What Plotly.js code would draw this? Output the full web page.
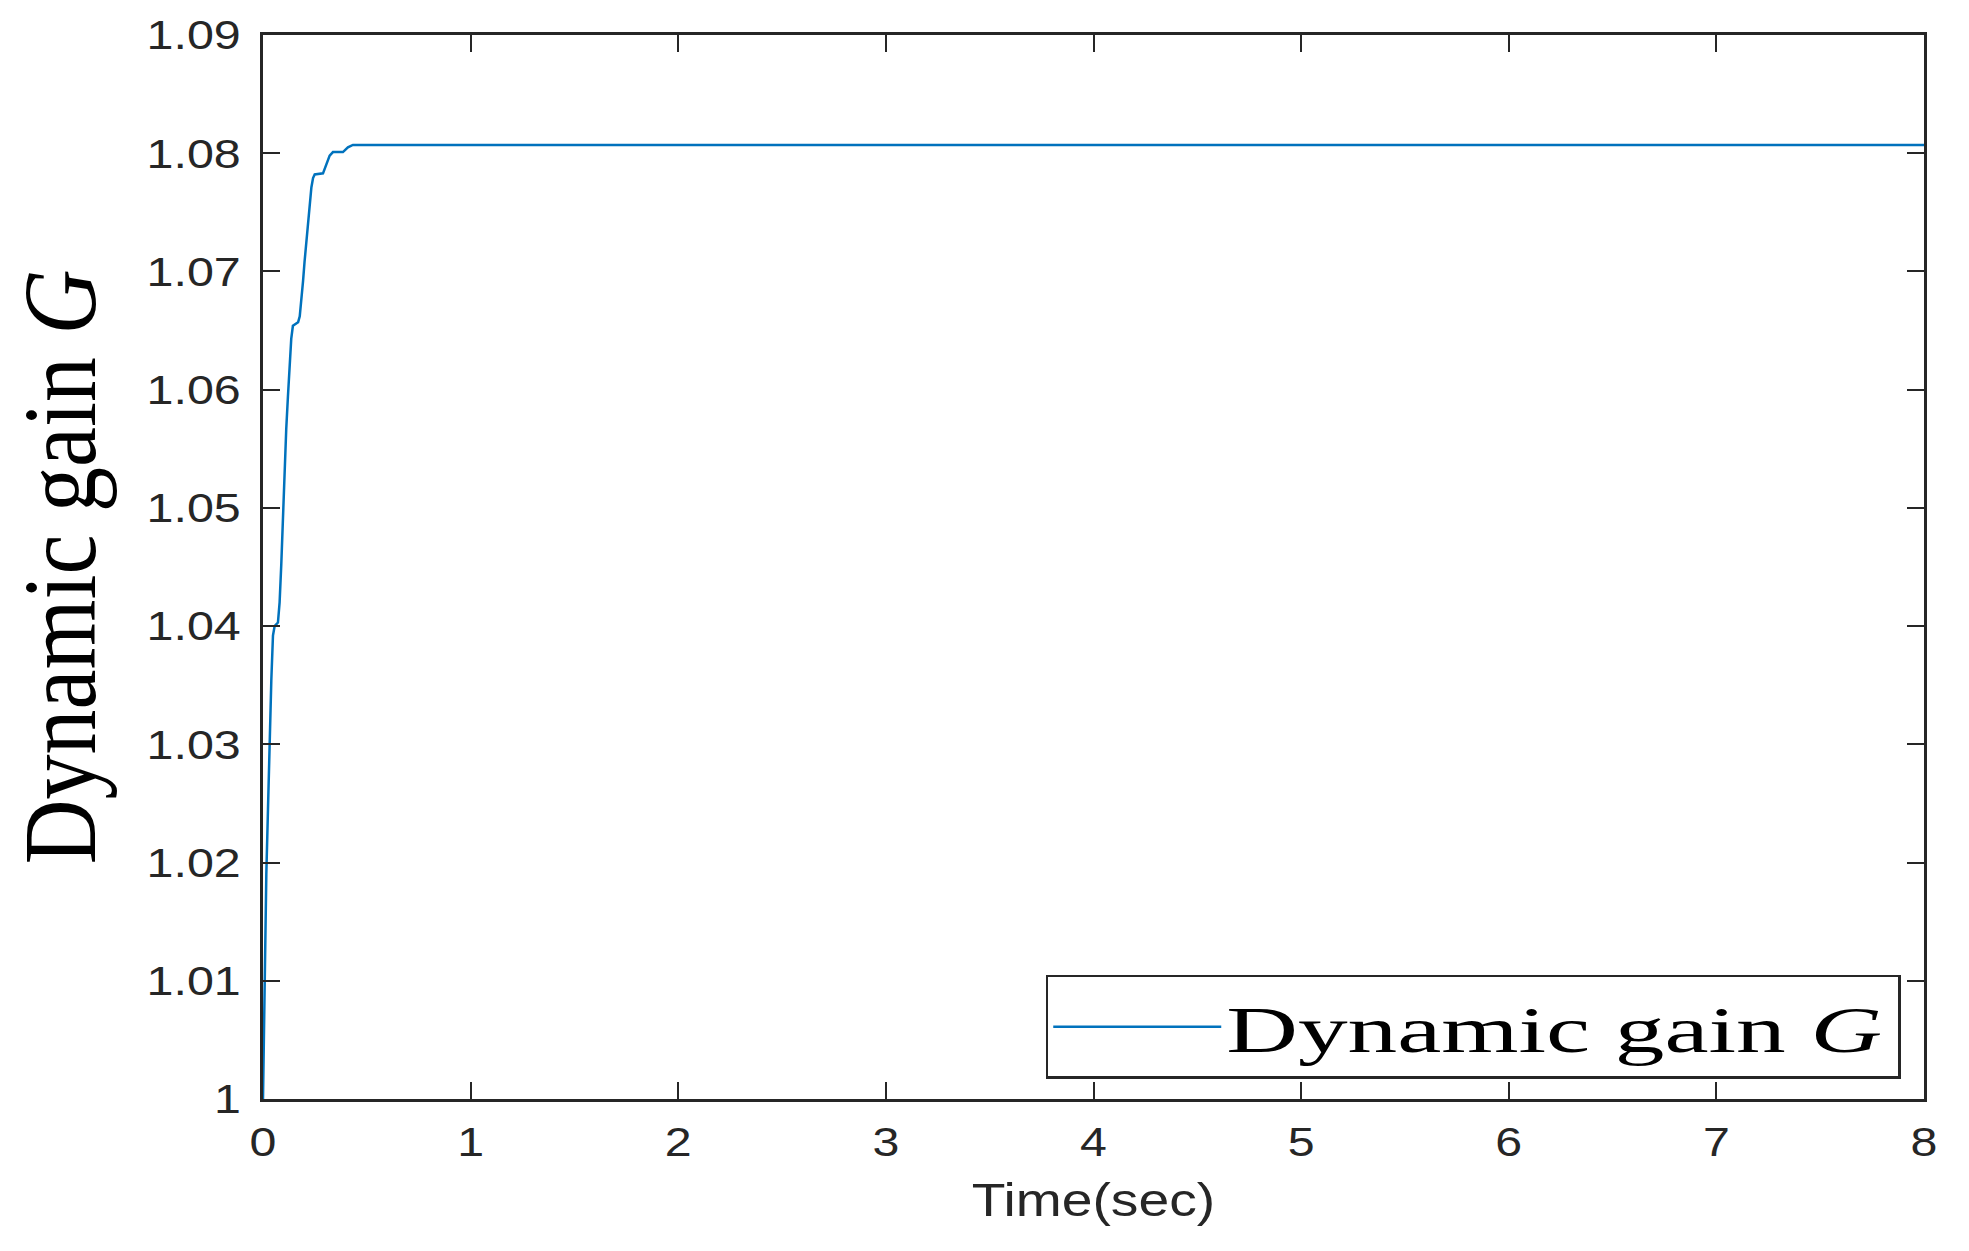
<!DOCTYPE html>
<html>
<head>
<meta charset="utf-8">
<script src="https://cdn.plot.ly/plotly-3.0.1.min.js"></script>
<style>
  html, body { margin: 0; padding: 0; background: #ffffff; }
  #chart { width: 1969px; height: 1251px; }
</style>
</head>
<body>
<div id="chart"></div>
<script>
// Time (sec)
const timeSec = [0, 0.004, 0.008, 0.016, 0.024, 0.032, 0.040, 0.048, 0.056, 0.072, 0.080, 0.088, 0.096, 0.104, 0.112, 0.120, 0.128, 0.136, 0.144, 0.169, 0.177, 0.186, 0.193, 0.200, 0.209, 0.217, 0.225, 0.233, 0.241, 0.249, 0.289, 0.305, 0.321, 0.337, 0.385, 0.409, 0.433, 8];
// Dynamic gain G
const gainG = [1.000, 1.006, 1.012, 1.019, 1.0245, 1.0305, 1.0354, 1.0392, 1.0400, 1.0403, 1.0420, 1.0452, 1.0496, 1.0534, 1.0567, 1.0594, 1.0621, 1.0643, 1.0654, 1.0657, 1.0662, 1.0676, 1.0692, 1.0708, 1.0725, 1.0741, 1.0757, 1.0771, 1.0779, 1.0782, 1.0783, 1.0790, 1.0798, 1.0801, 1.0801, 1.0805, 1.0807, 1.0807];

const xTickVals = [0, 1, 2, 3, 4, 5, 6, 7, 8];
const xTickText = ['0', '1', '2', '3', '4', '5', '6', '7', '8'];
const yTickVals = [1, 1.01, 1.02, 1.03, 1.04, 1.05, 1.06, 1.07, 1.08, 1.09];
const yTickText = ['1', '1.01', '1.02', '1.03', '1.04', '1.05', '1.06', '1.07', '1.08', '1.09'];

const seriesName = 'Dynamic gain <i>G</i>';
const xTitle = 'Time(sec)';
const yTitle = 'Dynamic gain <i>G</i>';

const axisColor = '#262626';
const tickFont = { family: '"Liberation Sans", Arial, Helvetica, sans-serif', size: 41, color: axisColor };

const trace = {
  x: timeSec,
  y: gainG,
  type: 'scatter',
  mode: 'lines',
  name: seriesName,
  line: { color: '#0072BD', width: 2.5 },
  showlegend: true
};

const layout = {
  width: 1969,
  height: 1251,
  paper_bgcolor: '#ffffff',
  plot_bgcolor: '#ffffff',
  margin: { l: 263, r: 45, t: 35, b: 152, pad: 0 },
  showlegend: true,
  xaxis: {
    range: [0, 8],
    tickmode: 'array',
    tickvals: xTickVals,
    ticktext: xTickText,
    ticks: 'inside',
    ticklen: 17,
    tickwidth: 2,
    tickcolor: axisColor,
    showline: true,
    linecolor: axisColor,
    linewidth: 3,
    mirror: 'ticks',
    showgrid: false,
    zeroline: false,
    tickfont: tickFont,
    ticklabelstandoff: 5,
    title: {
      text: xTitle,
      font: { family: '"Liberation Sans", Arial, Helvetica, sans-serif', size: 46, color: axisColor },
      standoff: 20
    }
  },
  yaxis: {
    range: [1, 1.09],
    tickmode: 'array',
    tickvals: yTickVals,
    ticktext: yTickText,
    ticks: 'inside',
    ticklen: 17,
    tickwidth: 2,
    tickcolor: axisColor,
    showline: true,
    linecolor: axisColor,
    linewidth: 3,
    mirror: 'ticks',
    showgrid: false,
    zeroline: false,
    tickfont: tickFont,
    ticklabelstandoff: 11,
    title: {
      text: yTitle,
      font: { family: '"Liberation Serif", "Times New Roman", serif', size: 90, color: '#000000' },
      standoff: 36
    }
  },
  legend: {
    orientation: 'h',
    x: 0.986,
    y: 0.019,
    xanchor: 'right',
    yanchor: 'bottom',
    bgcolor: '#ffffff',
    bordercolor: axisColor,
    borderwidth: 2.5,
    itemwidth: 168,
    entrywidth: 667,
    entrywidthmode: 'pixels',
    font: { family: '"Liberation Serif", "Times New Roman", serif', size: 66, color: '#000000' }
  }
};

function stretchText(selector, factor) {
  document.querySelectorAll(selector).forEach(function (t) {
    const w = t.getComputedTextLength();
    if (w > 0) {
      t.setAttribute('textLength', (w * factor).toFixed(1));
      t.setAttribute('lengthAdjust', 'spacingAndGlyphs');
    }
  });
}

Plotly.newPlot('chart', [trace], layout, { displayModeBar: false, responsive: false, staticPlot: true }).then(function () {
  stretchText('.xtick text', 1.18);
  stretchText('.ytick text', 1.18);
  stretchText('text.xtitle', 1.2);
  document.querySelectorAll('text.legendtext').forEach(function (t) {
    t.setAttribute('textLength', '656');
    t.setAttribute('lengthAdjust', 'spacingAndGlyphs');
  });
  const yt = document.querySelector('text.ytitle');
  if (yt) {
    const tx = parseFloat(yt.getAttribute('x'));
    const ty = parseFloat(yt.getAttribute('y'));
    const base = yt.getAttribute('transform') || '';
    yt.setAttribute('transform', base + ' translate(' + tx + ',' + ty + ') scale(1,1.15) translate(' + (-tx) + ',' + (-ty) + ')');
  }
});
</script>
</body>
</html>
